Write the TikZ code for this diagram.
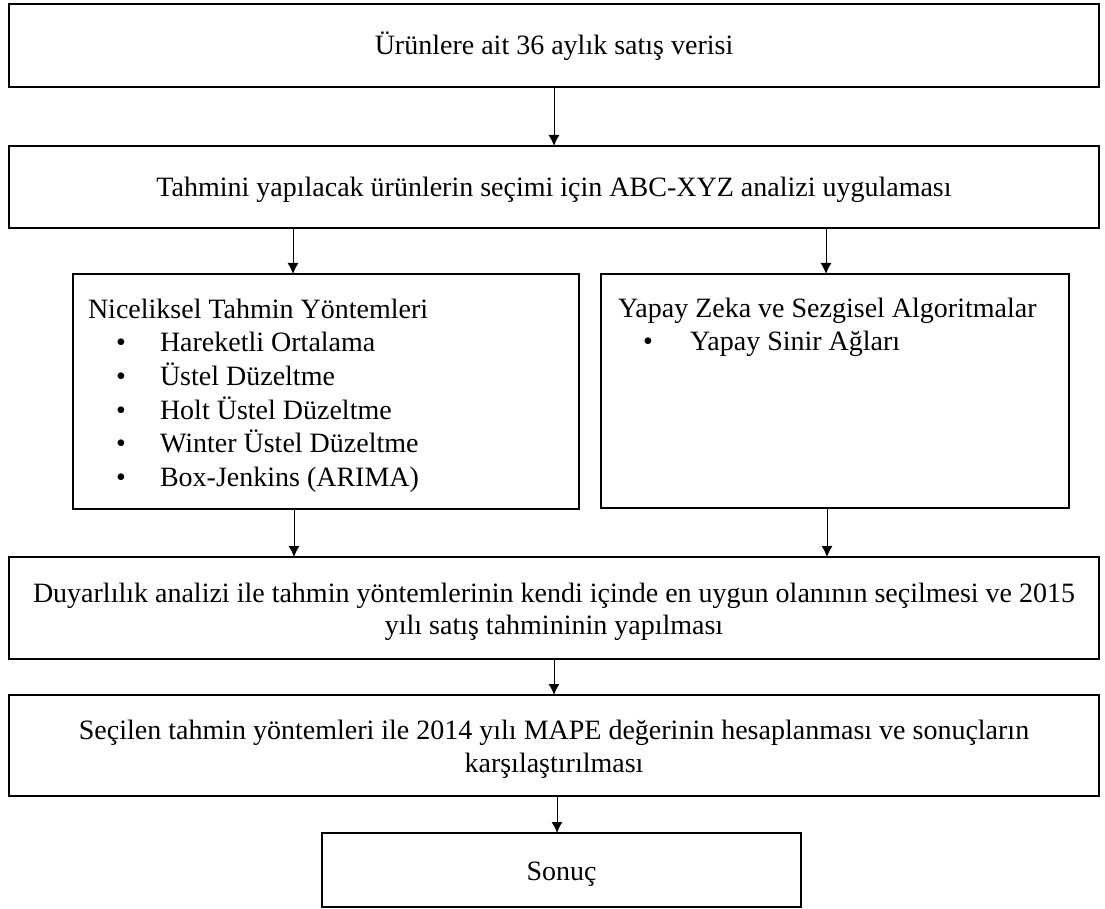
\documentclass[tikz,border=0pt]{standalone}
\usepackage{fontspec}
\setmainfont{Liberation Serif}
\usetikzlibrary{arrows.meta}
\begin{document}
\begin{tikzpicture}[x=1pt,y=-1pt,
  box/.style={draw,line width=2pt,inner sep=0pt,outer sep=0pt},
  txt/.style={inner sep=0pt,outer sep=0pt,font=\fontsize{28}{33}\selectfont},
  flow/.style={line width=1pt,-{Latex[length=11pt,width=11pt]}}]
\useasboundingbox (0,0) rectangle (1105,909);

% process boxes
\node[box,minimum width=1090pt,minimum height=83pt]  (b1)  at (554,45.5)  {};
\node[box,minimum width=1090pt,minimum height=82pt]  (b2)  at (554,187)   {};
\node[box,minimum width=506pt,minimum height=235pt]  (b3l) at (326,391.5) {};
\node[box,minimum width=468pt,minimum height=234pt]  (b3r) at (835,391)   {};
\node[box,minimum width=1090pt,minimum height=102pt] (b4)  at (554,608)   {};
\node[box,minimum width=1090pt,minimum height=101pt] (b5)  at (554,745.5) {};
\node[box,minimum width=479pt,minimum height=74pt]   (b6)  at (561.5,870) {};

% box texts
\node[txt,anchor=base] (t1) at (554,55) {Ürünlere ait 36 aylık satış verisi};
\node[txt,anchor=base] (t2) at (554,197) {Tahmini yapılacak ürünlerin seçimi için ABC-XYZ analizi uygulaması};

\node[txt,anchor=base west] (tl0) at (88,318) {Niceliksel Tahmin Yöntemleri};
\foreach \i/\s in {1/Hareketli Ortalama,2/Üstel Düzeltme,3/Holt Üstel Düzeltme,4/Winter Üstel Düzeltme,5/Box-Jenkins (ARIMA)}{
  \node[txt,anchor=base west] (bl\i) at (116,318+33.7*\i) {•};
  \node[txt,anchor=base west] (tl\i) at (160,318+33.7*\i) {\s};
}

\node[txt,anchor=base west] (tr0) at (618,317) {Yapay Zeka ve Sezgisel Algoritmalar};
\node[txt,anchor=base west] (br1) at (643,350) {•};
\node[txt,anchor=base west] (tr1) at (690,350) {Yapay Sinir Ağları};

\node[txt,anchor=base] (t4a) at (554,602) {Duyarlılık analizi ile tahmin yöntemlerinin kendi içinde en uygun olanının seçilmesi ve 2015};
\node[txt,anchor=base] (t4b) at (554,634) {yılı satış tahmininin yapılması};
\node[txt,anchor=base] (t5a) at (554,739) {Seçilen tahmin yöntemleri ile 2014 yılı MAPE değerinin hesaplanması ve sonuçların};
\node[txt,anchor=base] (t5b) at (554,772) {karşılaştırılması};
\node[txt,anchor=base] (t6) at (561.5,880) {Sonuç};

% connector columns
\coordinate (xm) at (554,0);
\coordinate (xl) at (293,0);
\coordinate (xr) at (826,0);
\coordinate (xl2) at (294,0);
\coordinate (xr2) at (827,0);
\coordinate (xs) at (557,0);

\draw[flow] (b1.south -| xm) -- (b2.north -| xm);
\draw[flow] (b2.south -| xl) -- (b3l.north -| xl);
\draw[flow] (b2.south -| xr) -- (b3r.north -| xr);
\draw[flow] (b3l.south -| xl2) -- (b4.north -| xl2);
\draw[flow] (b3r.south -| xr2) -- (b4.north -| xr2);
\draw[flow] (b4.south -| xm) -- (b5.north -| xm);
\draw[flow] (b5.south -| xs) -- (b6.north -| xs);
\end{tikzpicture}
\end{document}
